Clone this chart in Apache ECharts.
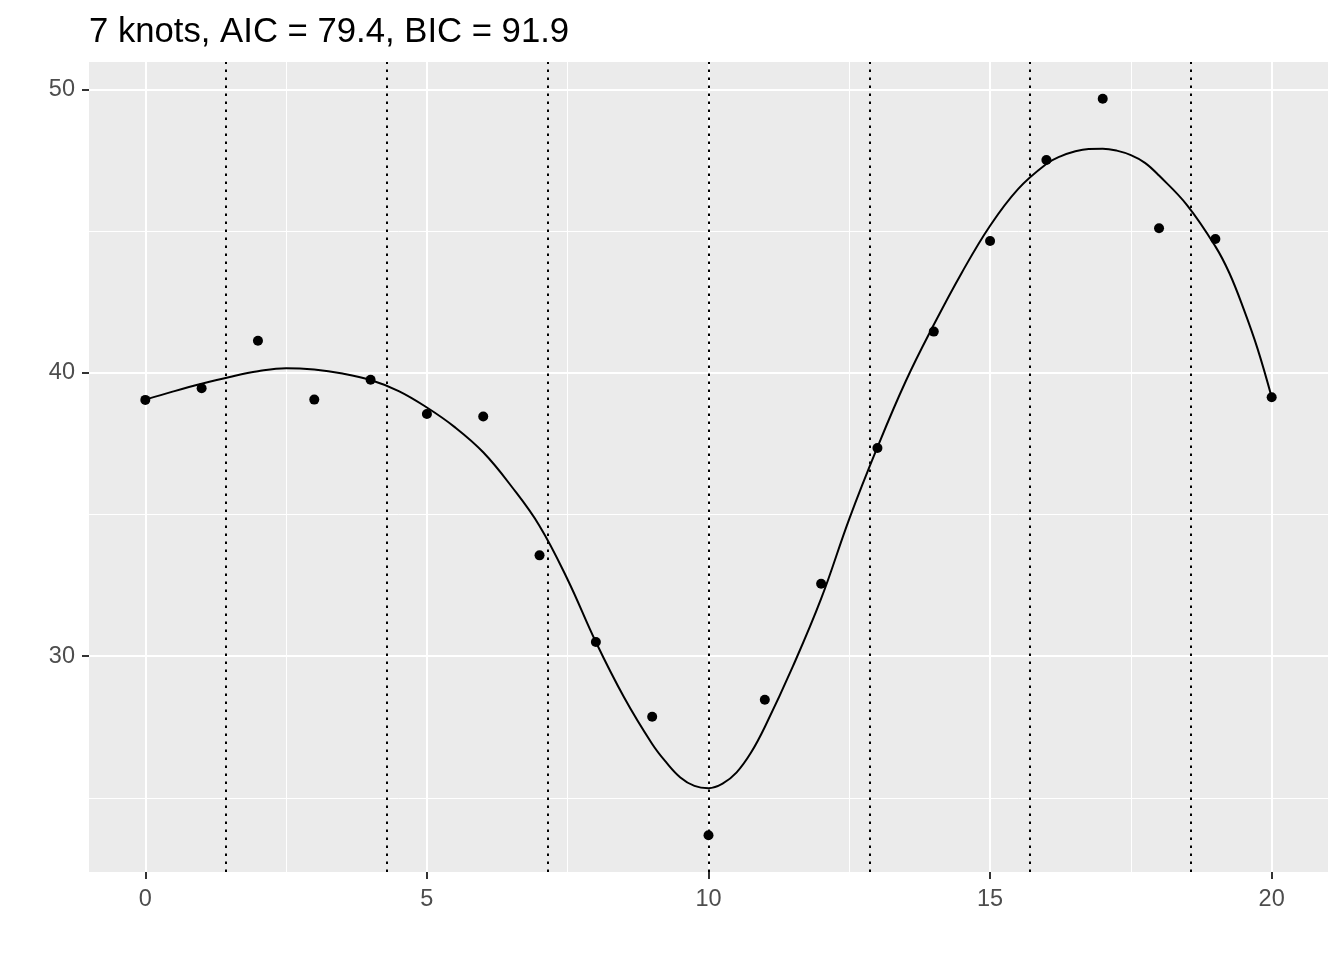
<!DOCTYPE html>
<html>
<head>
<meta charset="utf-8">
<script src="https://cdn.jsdelivr.net/npm/echarts@6/dist/echarts.min.js"></script>
<style>
html,body{margin:0;padding:0;background:#fff;}
#chart{width:1344px;height:960px;}
</style>
</head>
<body>
<div id="chart"></div>
<script>
const titleText = '7 knots, AIC = 79.4, BIC = 91.9';
const pointX = [0,1,2,3,4,5,6,7,8,9,10,11,12,13,14,15,16,17,18,19,20];
const pointY = [39.05,39.46,41.14,39.06,39.76,38.55,38.46,33.56,30.5,27.86,23.68,28.46,32.56,37.35,41.46,44.66,47.52,49.68,45.11,44.73,39.14];
const curveX = [0,0.5,1,1.5,2,2.5,3,3.5,4,4.5,5,5.5,6,6.5,7,7.5,8,8.5,9,9.25,9.5,9.75,10,10.25,10.5,10.75,11,11.5,12,12.5,13,13.5,14,14.5,15,15.5,16,16.25,16.5,16.75,17,17.25,17.5,17.75,18,18.5,19,19.25,19.5,19.75,20];
const curveY = [39.06,39.35,39.62,39.86,40.06,40.17,40.12,39.98,39.75,39.36,38.78,38.08,37.2,36.0,34.6,32.7,30.5,28.55,26.9,26.25,25.72,25.42,25.34,25.5,25.9,26.58,27.5,29.65,32.03,34.85,37.38,39.7,41.7,43.55,45.2,46.5,47.38,47.65,47.82,47.91,47.92,47.85,47.69,47.42,46.97,45.92,44.47,43.52,42.27,40.85,39.14];
const knots = [1.4286,4.2857,7.1429,10,12.8571,15.7143,18.5714];
const xMajor = [0,5,10,15,20];
const xMinor = [2.5,7.5,12.5,17.5];
const yMajor = [30,40,50];
const yMinor = [25,35,45];

const FONT = '"Liberation Sans", Arial, sans-serif';
const chart = echarts.init(document.getElementById('chart'), null, {renderer:'canvas'});

const majorAxisCommon = {
  type:'value',
  axisLine:{show:false, onZero:false},
  axisTick:{show:true, length:7, lineStyle:{color:'#333333', width:2}},
  axisLabel:{color:'#4D4D4D', fontSize:23.5, fontFamily:FONT},
  splitLine:{show:true, lineStyle:{color:'#FFFFFF', width:2}}
};
const minorAxisCommon = {
  type:'value',
  axisLine:{show:false, onZero:false},
  axisLabel:{show:false},
  splitLine:{show:true, lineStyle:{color:'#FFFFFF', width:1}}
};

chart.setOption({
  animation:false,
  backgroundColor:'#FFFFFF',
  title:{
    text:titleText, left:84, top:10,
    textStyle:{fontFamily:FONT, fontSize:34.7, fontWeight:'normal', color:'#000000'}
  },
  grid:{left:89, right:16, top:62, bottom:88, show:true, backgroundColor:'#EBEBEB', borderWidth:0, containLabel:false},
  xAxis:[
    Object.assign({}, minorAxisCommon, {min:-1, max:21, position:'bottom',
      axisTick:{show:false, customValues:xMinor}, axisLabel:{show:false, customValues:xMinor}}),
    Object.assign({}, majorAxisCommon, {min:-1, max:21, position:'bottom',
      axisTick:Object.assign({}, majorAxisCommon.axisTick, {customValues:xMajor}),
      axisLabel:Object.assign({}, majorAxisCommon.axisLabel, {customValues:xMajor, margin:16})})
  ],
  yAxis:[
    Object.assign({}, minorAxisCommon, {min:22.38, max:50.98, position:'left',
      axisTick:{show:false, customValues:yMinor}, axisLabel:{show:false, customValues:yMinor}}),
    Object.assign({}, majorAxisCommon, {min:22.38, max:50.98, position:'left',
      axisTick:Object.assign({}, majorAxisCommon.axisTick, {customValues:yMajor}),
      axisLabel:Object.assign({}, majorAxisCommon.axisLabel, {customValues:yMajor, margin:14, padding:[4,0,0,0]})})
  ],
  series:[
    {
      type:'line', xAxisIndex:1, yAxisIndex:1, data:[], silent:true,
      markLine:{
        silent:true, symbol:['none','none'], label:{show:false},
        lineStyle:{color:'#000000', type:[2.5,5.5], width:2},
        emphasis:{disabled:true},
        data:knots.map(k => ({xAxis:k}))
      }
    },
    {
      type:'scatter', xAxisIndex:1, yAxisIndex:1,
      data:pointX.map((x,i)=>[x,pointY[i]]),
      symbol:'circle', symbolSize:10,
      itemStyle:{color:'#000000', opacity:1}
    },
    {
      type:'line', xAxisIndex:1, yAxisIndex:1,
      data:curveX.map((x,i)=>[x,curveY[i]]),
      showSymbol:false, smooth:0.4,
      lineStyle:{color:'#000000', width:2}
    }
  ]
});
</script>
</body>
</html>
